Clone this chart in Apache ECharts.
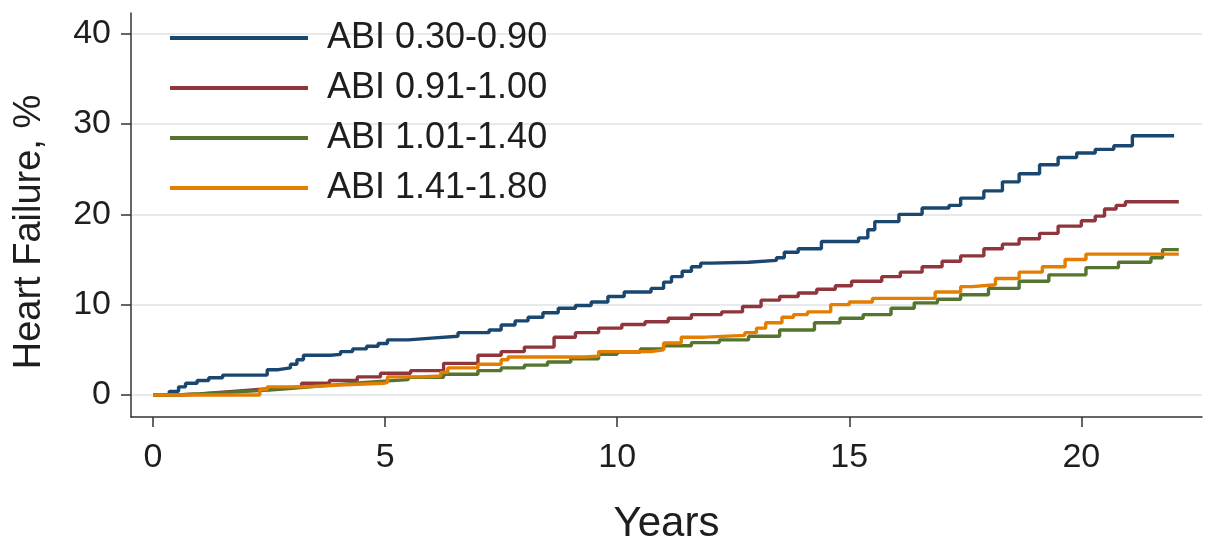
<!DOCTYPE html>
<html><head><meta charset="utf-8">
<script src="https://cdn.jsdelivr.net/npm/echarts@6/dist/echarts.min.js"></script>
<style>html,body{margin:0;padding:0;background:#fff}#c{width:1207px;height:540px}</style>
</head><body><div id="c"></div>
<script>
const seriesNames = ['ABI 0.30-0.90', 'ABI 0.91-1.00', 'ABI 1.01-1.40', 'ABI 1.41-1.80'];
const xTicks = [0, 5, 10, 15, 20];
const yTicks = [0, 10, 20, 30, 40];
const xTitle = 'Years';
const yTitle = 'Heart Failure, %';

// [years, cumulative %]
const abi030_090 = [[0,0],[0.35,0.4],[0.55,0.9],[0.7,1.3],[0.95,1.6],[1.2,1.9],[1.5,2.2],[2.46,2.8],[2.7,3.0],[2.96,3.4],[3.1,3.9],[3.24,4.4],[3.82,4.5],[4.04,4.8],[4.3,5.1],[4.6,5.4],[4.85,5.7],[5.05,6.1],[5.5,6.3],[6.0,6.5],[6.57,6.9],[7.24,7.2],[7.5,7.75],[7.8,8.2],[8.08,8.6],[8.4,9.1],[8.73,9.6],[9.1,9.9],[9.44,10.3],[9.8,10.9],[10.15,11.4],[10.73,11.8],[11.0,12.5],[11.17,13.1],[11.4,13.7],[11.6,14.2],[11.8,14.6],[12.03,14.7],[12.83,14.9],[13.43,15.2],[13.6,15.8],[13.9,16.2],[14.4,17.0],[15.2,17.4],[15.4,18.3],[15.55,19.2],[16.07,20.0],[16.57,20.7],[17.15,21.0],[17.4,21.8],[17.9,22.6],[18.3,23.6],[18.66,24.5],[19.1,25.5],[19.5,26.3],[19.9,26.8],[20.3,27.2],[20.7,27.6],[21.1,28.7],[22.0,28.7]];
const abi091_100 = [[0,0],[0.5,0.1],[1.0,0.3],[1.5,0.5],[2.0,0.7],[2.5,0.9],[3.2,1.3],[3.8,1.6],[4.4,2.0],[4.9,2.4],[5.55,2.7],[6.26,3.5],[7.0,4.4],[7.5,4.8],[8.0,5.3],[8.64,6.4],[9.1,6.9],[9.6,7.4],[10.1,7.8],[10.6,8.1],[11.1,8.5],[11.6,8.9],[12.25,9.2],[12.7,9.8],[13.1,10.5],[13.5,10.9],[13.9,11.3],[14.3,11.7],[14.7,12.1],[15.05,12.6],[15.7,13.1],[16.1,13.6],[16.57,14.2],[17.0,14.8],[17.4,15.4],[17.9,16.2],[18.3,16.7],[18.66,17.3],[19.1,17.9],[19.5,18.7],[20.0,19.3],[20.3,19.8],[20.5,20.6],[20.75,21.0],[20.95,21.4],[22.1,21.4]];
const abi101_140 = [[0,0],[0.5,0.1],[1.0,0.25],[1.5,0.4],[2.0,0.55],[2.5,0.75],[3.0,0.95],[3.5,1.15],[4.0,1.35],[4.5,1.5],[4.9,1.7],[5.5,1.95],[6.26,2.3],[7.0,2.7],[7.5,3.0],[8.0,3.3],[8.5,3.65],[9.0,4.0],[9.6,4.5],[10.0,4.75],[10.5,5.1],[11.0,5.45],[11.6,5.8],[12.2,6.1],[12.83,6.5],[13.5,7.2],[14.25,8.0],[14.8,8.5],[15.3,8.9],[15.9,9.6],[16.4,10.2],[16.9,10.6],[17.4,11.1],[18.0,11.8],[18.66,12.6],[19.3,13.3],[20.1,14.1],[20.8,14.7],[21.5,15.2],[21.75,16.1],[22.1,16.1]];
const abi141_180 = [[0,0],[2.25,0],[2.3,0.6],[2.46,0.9],[3.3,1.1],[4.0,1.3],[4.97,1.4],[5.05,2.0],[5.77,2.1],[6.2,2.5],[6.35,3.0],[7.0,3.4],[7.5,3.9],[7.65,4.2],[9.3,4.3],[9.6,4.8],[10.73,5.0],[11.0,5.75],[11.38,6.4],[11.9,6.6],[12.75,6.9],[13.0,7.4],[13.2,8.0],[13.55,8.6],[13.8,8.9],[14.1,9.2],[14.6,10.0],[15.0,10.3],[15.5,10.7],[16.85,11.4],[17.4,12.0],[17.65,12.2],[18.15,12.9],[18.66,13.6],[19.16,14.2],[19.65,15.0],[20.1,15.6],[22.1,15.6]];

const seriesData = [abi030_090, abi091_100, abi101_140, abi141_180];
const colors = ['#1a476f', '#90353b', '#55752f', '#e37e00'];

const FONT = "'Liberation Sans', Arial, sans-serif";
const axisColor = '#333';
const textColor = '#1e1e1e';

const chart = echarts.init(document.getElementById('c'), null, {renderer: 'canvas'});
chart.setOption({
  animation: false,
  backgroundColor: '#fff',
  textStyle: {fontFamily: FONT},
  grid: {left: 131, right: 5, top: 13, bottom: 123, containLabel: false, outerBoundsMode: 'none'},
  legend: {
    data: seriesNames,
    orient: 'vertical',
    left: 165, top: 14,
    icon: 'rect', itemWidth: 138, itemHeight: 4, itemGap: 12,
    textStyle: {fontSize: 36, color: textColor, lineHeight: 38, fontFamily: FONT, padding: [0, 0, 0, 14]}
  },
  xAxis: {
    type: 'value', min: -0.475, max: 22.6,
    axisLine: {onZero: false, lineStyle: {color: axisColor, width: 1.5}},
    axisTick: {show: true, length: 10, customValues: xTicks, lineStyle: {color: axisColor, width: 1.5}},
    axisLabel: {customValues: xTicks, fontSize: 34, color: textColor, margin: 24, fontFamily: FONT},
    splitLine: {show: false},
    name: xTitle, nameLocation: 'middle', nameGap: 86,
    nameTextStyle: {fontSize: 42, color: textColor, fontFamily: FONT}
  },
  yAxis: {
    type: 'value', min: -2.44, max: 42.3,
    axisLine: {show: true, onZero: false, lineStyle: {color: axisColor, width: 1.5}},
    axisTick: {show: true, length: 10, customValues: yTicks, lineStyle: {color: axisColor, width: 1.5}},
    axisLabel: {customValues: yTicks, fontSize: 34, color: textColor, margin: 20, fontFamily: FONT},
    splitLine: {show: true, lineStyle: {color: '#e6eaec', width: 2}},
    name: yTitle, nameLocation: 'middle', nameGap: 82, nameRotate: 90,
    nameTextStyle: {fontSize: 38, color: textColor, fontFamily: FONT, padding: [0, 34, 0, 0]}
  },
  series: seriesNames.map((n, i) => ({
    name: n, type: 'line', step: 'end', data: seriesData[i],
    showSymbol: false, symbol: 'none',
    itemStyle: {color: colors[i]},
    lineStyle: {color: colors[i], width: 3.4}
  }))
});
</script></body></html>
